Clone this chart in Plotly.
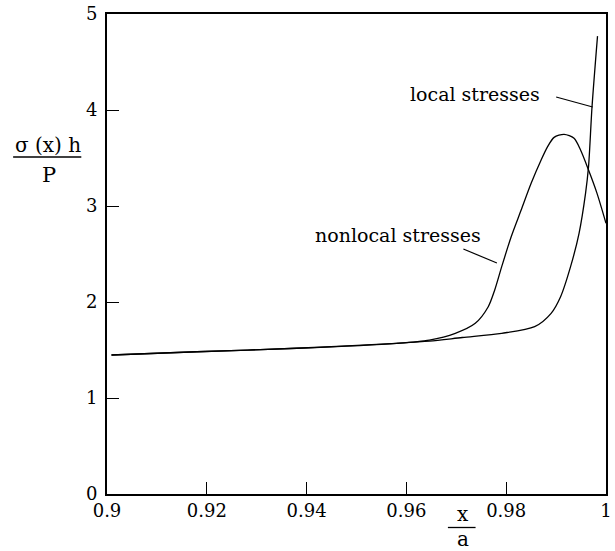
import plotly.graph_objects as go

# ---- data ----
local_x = [0.9009, 0.918, 0.938, 0.958, 0.9646, 0.9712, 0.9791, 0.9857, 0.9890, 0.9909, 0.9929, 0.9946, 0.9959, 0.9965, 0.9972, 0.9983]
local_y = [1.448, 1.482, 1.518, 1.570, 1.592, 1.630, 1.674, 1.743, 1.882, 2.055, 2.368, 2.716, 3.132, 3.410, 4.034, 4.770]

nonlocal_x = [0.9009, 0.918, 0.938, 0.958, 0.9646, 0.9698, 0.9738, 0.9764, 0.9777, 0.9791, 0.9810, 0.9830, 0.9850, 0.9870, 0.9883, 0.9896, 0.9916, 0.9936, 0.9949, 0.9965, 0.9982, 1.0000]
nonlocal_y = [1.448, 1.482, 1.518, 1.570, 1.604, 1.674, 1.778, 1.951, 2.125, 2.368, 2.680, 2.958, 3.236, 3.479, 3.618, 3.715, 3.747, 3.705, 3.583, 3.375, 3.132, 2.820]

x_ticks = [0.9, 0.92, 0.94, 0.96, 0.98, 1.0]
x_tick_labels = ["0.9", "0.92", "0.94", "0.96", "0.98", "1"]
y_ticks = [0, 1, 2, 3, 4, 5]
y_tick_labels = ["0", "1", "2", "3", "4", "5"]

FONT = "DejaVu Serif"

W, H = 615, 551
L, R, T, B = 107, 3, 14, 57
PW, PH = W - L - R, H - T - B

def px(x_page):
    return (x_page - L) / PW

def py(y_page):
    return (H - B - y_page) / PH

fig = go.Figure()
for xs, ys in ((local_x, local_y), (nonlocal_x, nonlocal_y)):
    fig.add_trace(go.Scatter(x=xs, y=ys, mode="lines",
                             line=dict(color="black", width=1.3, shape="spline", smoothing=0.8),
                             showlegend=False, hoverinfo="skip"))

# leader lines
fig.add_shape(type="line", xref="x", yref="y", x0=0.99001, y0=4.135, x1=0.99733, y1=4.031,
              line=dict(color="black", width=1.2))
fig.add_shape(type="line", xref="x", yref="y", x0=0.97142, y0=2.552, x1=0.97814, y1=2.406,
              line=dict(color="black", width=1.2))

fig.add_annotation(x=px(479.5), y=py(94), xref="paper", yref="paper", text="local stresses",
                   showarrow=False, font=dict(family=FONT, size=19, color="black"),
                   xanchor="center", yanchor="middle")
fig.add_annotation(x=px(401), y=py(235), xref="paper", yref="paper", text="nonlocal stresses",
                   showarrow=False, font=dict(family=FONT, size=19, color="black"),
                   xanchor="center", yanchor="middle")

# y-axis title as a fraction
fig.add_annotation(x=px(47), y=py(145), xref="paper", yref="paper", text="σ (x) h",
                   showarrow=False, font=dict(family=FONT, size=20, color="black"),
                   xanchor="center", yanchor="middle")
fig.add_shape(type="line", xref="paper", yref="paper", x0=px(12), x1=px(81), y0=py(157), y1=py(157),
              line=dict(color="black", width=1.3))
fig.add_annotation(x=px(48), y=py(175), xref="paper", yref="paper", text="P",
                   showarrow=False, font=dict(family=FONT, size=21, color="black"),
                   xanchor="center", yanchor="middle")

# x-axis title as a fraction
fig.add_annotation(x=px(467), y=py(514), xref="paper", yref="paper", text="x",
                   showarrow=False, font=dict(family=FONT, size=20, color="black"),
                   xanchor="center", yanchor="middle")
fig.add_shape(type="line", xref="paper", yref="paper", x0=px(452), x1=px(480), y0=py(527.5), y1=py(527.5),
              line=dict(color="black", width=1.3))
fig.add_annotation(x=px(467), y=py(538.5), xref="paper", yref="paper", text="a",
                   showarrow=False, font=dict(family=FONT, size=20, color="black"),
                   xanchor="center", yanchor="middle")

fig.update_layout(
    width=W, height=H,
    margin=dict(l=L, r=R, t=T, b=B),
    paper_bgcolor="white", plot_bgcolor="white",
    font=dict(family=FONT, size=18, color="black"),
)
axis_common = dict(ticks="inside", ticklen=12, tickwidth=1.3, tickcolor="black",
                   showline=True, linecolor="black", linewidth=2, mirror=True,
                   showgrid=False, zeroline=False, tickfont=dict(family=FONT, size=18),
                   ticklabeloverflow="allow")
fig.update_xaxes(range=[0.9, 1.0], tickvals=x_ticks, ticktext=x_tick_labels,
                 ticklabelstandoff=-1, **axis_common)
fig.update_yaxes(range=[0, 5], tickvals=y_ticks, ticktext=y_tick_labels,
                 ticklabelstandoff=4, **axis_common)

fig.write_html("out.html", config={"displayModeBar": False},
               post_script="document.body.style.margin='0';document.body.style.overflow='hidden';")
